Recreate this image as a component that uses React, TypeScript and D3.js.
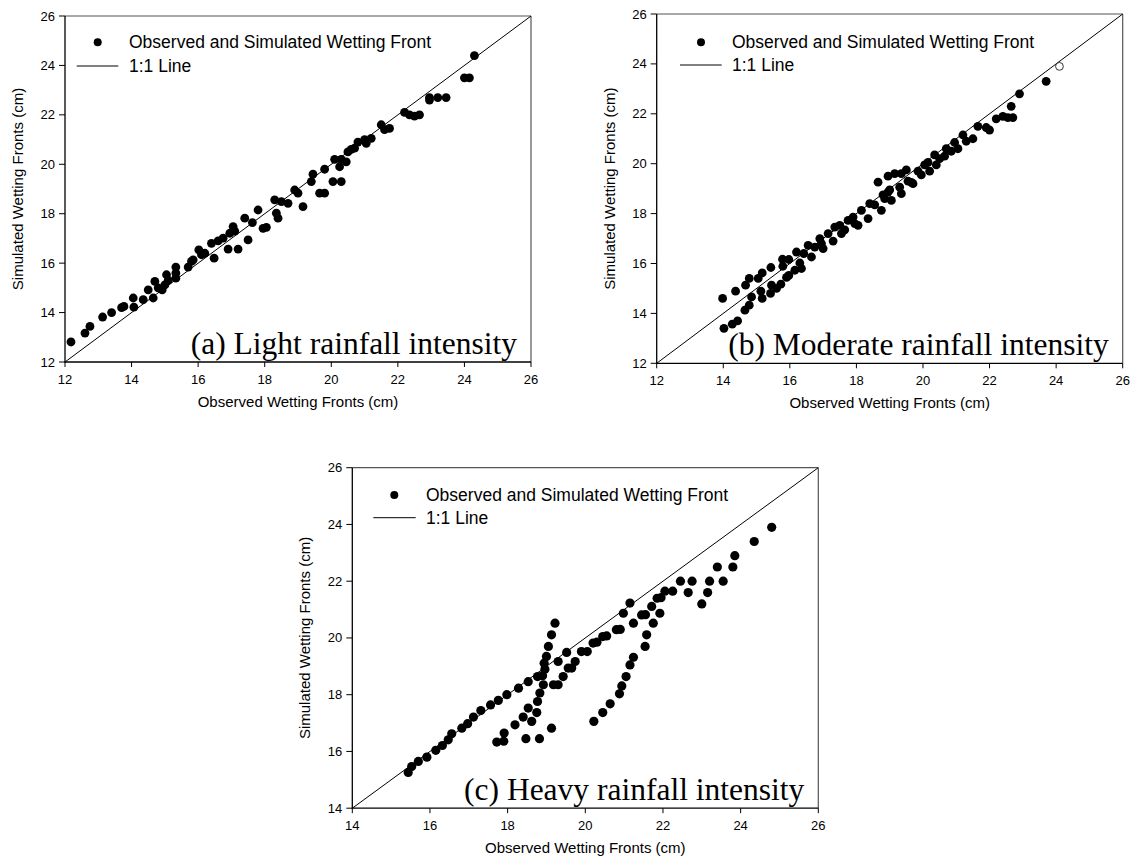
import React from "react";
import * as d3 from "d3";

// ---------- data ----------
const ticksAB = [12, 14, 16, 18, 20, 22, 24, 26];
const ticksC = [14, 16, 18, 20, 22, 24, 26];

const obsA = [12.18, 12.6, 12.75, 13.13, 13.4, 13.7, 13.77, 14.05, 14.07, 14.35, 14.5, 14.65, 14.7, 14.92, 15.0, 15.05, 15.1, 14.8, 15.33, 15.33, 15.33, 15.7, 15.8, 15.85, 16.02, 16.1, 16.2, 16.4, 16.48, 16.6, 16.75, 16.95, 17.05, 17.1, 16.9, 17.2, 17.5, 17.4, 17.63, 17.8, 17.95, 18.05, 18.3, 18.35, 18.4, 18.5, 18.7, 19.15, 18.9, 19.0, 19.4, 19.65, 19.8, 20.05, 20.3, 19.45, 19.8, 20.1, 20.25, 20.3, 20.45, 20.5, 20.6, 20.7, 20.8, 21.0, 21.05, 21.2, 21.5, 21.6, 21.75, 22.2, 22.35, 22.5, 22.65, 22.95, 22.95, 23.2, 23.45, 24.0, 24.15, 24.3];
const simA = [12.81, 13.17, 13.44, 13.82, 14.0, 14.2, 14.25, 14.59, 14.22, 14.52, 14.92, 14.59, 15.26, 14.92, 15.12, 15.53, 15.3, 15.0, 15.84, 15.6, 15.39, 15.84, 16.07, 16.13, 16.54, 16.34, 16.4, 16.8, 16.2, 16.9, 17.01, 17.21, 17.48, 17.3, 16.57, 16.57, 16.94, 17.82, 17.64, 18.15, 17.41, 17.45, 18.56, 18.02, 17.82, 18.49, 18.42, 18.29, 18.96, 18.83, 19.3, 18.83, 18.83, 19.3, 19.3, 19.6, 19.8, 20.2, 19.9, 20.2, 20.1, 20.5, 20.6, 20.65, 20.9, 21.0, 20.85, 21.05, 21.6, 21.4, 21.45, 22.1, 22.0, 21.95, 22.0, 22.7, 22.6, 22.7, 22.7, 23.5, 23.5, 24.4];

const obsB = [13.98, 14.02, 14.27, 14.43, 14.37, 14.65, 14.78, 14.85, 14.67, 14.78, 15.05, 15.17, 15.13, 15.17, 15.43, 15.45, 15.42, 15.6, 15.73, 15.78, 15.79, 15.97, 15.9, 15.97, 16.15, 16.2, 16.3, 16.42, 16.35, 16.55, 16.65, 16.75, 16.9, 16.95, 17.0, 17.15, 17.3, 17.35, 17.5, 17.55, 17.65, 17.75, 17.9, 17.95, 18.05, 18.15, 18.35, 18.4, 18.55, 18.65, 18.75, 18.8, 18.85, 18.95, 19.0, 19.05, 19.3, 19.35, 19.7, 18.95, 19.15, 19.35, 19.5, 19.55, 19.65, 19.85, 19.95, 20.05, 20.15, 20.2, 20.35, 20.4, 20.5, 20.65, 20.7, 20.85, 20.95, 21.05, 21.2, 21.3, 21.5, 21.65, 21.9, 22.0, 22.2, 22.4, 22.55, 22.65, 22.7, 22.9, 23.7];
const simB = [14.6, 13.4, 13.57, 13.7, 14.89, 14.13, 14.33, 14.66, 15.13, 15.4, 15.4, 15.62, 14.89, 14.6, 15.84, 15.13, 14.8, 15.0, 15.17, 16.17, 15.89, 16.16, 15.44, 15.52, 15.73, 16.46, 16.02, 16.4, 15.8, 16.73, 16.26, 16.66, 17.0, 16.8, 16.6, 17.2, 16.9, 17.46, 17.53, 17.2, 17.35, 17.73, 17.86, 17.6, 17.53, 18.13, 17.8, 18.4, 18.35, 19.26, 18.13, 18.75, 18.6, 18.86, 18.95, 18.53, 19.06, 18.8, 19.2, 19.5, 19.6, 19.6, 19.75, 19.3, 19.25, 19.7, 19.55, 19.95, 20.05, 19.7, 20.35, 19.95, 20.2, 20.3, 20.6, 20.5, 20.85, 20.6, 21.15, 20.9, 21.0, 21.5, 21.45, 21.35, 21.8, 21.9, 21.85, 22.3, 21.85, 22.8, 23.3];
const openObsB = [24.1];
const openSimB = [23.9];

const obsC = [15.44, 15.53, 15.7, 15.92, 16.15, 16.32, 16.47, 16.56, 16.82, 16.97, 17.12, 17.31, 17.56, 17.76, 17.98, 17.72, 17.9, 17.91, 18.28, 18.53, 18.77, 18.19, 18.4, 18.53, 18.47, 18.82, 18.62, 18.75, 18.77, 18.83, 18.92, 18.9, 18.96, 18.94, 19.0, 19.05, 19.13, 19.22, 19.13, 19.18, 19.3, 19.3, 19.43, 19.56, 19.52, 19.65, 19.74, 19.9, 20.05, 20.2, 20.3, 20.45, 20.55, 20.8, 20.9, 20.98, 21.15, 21.24, 21.45, 21.55, 21.58, 21.71, 21.75, 21.85, 21.95, 21.92, 21.54, 21.24, 21.15, 21.05, 20.94, 20.88, 20.64, 20.45, 20.22, 22.05, 22.25, 22.45, 22.65, 22.75, 23.0, 23.15, 23.2, 23.4, 23.55, 23.8, 23.85, 24.35, 24.8];
const simC = [15.26, 15.47, 15.65, 15.8, 16.04, 16.21, 16.41, 16.62, 16.82, 16.98, 17.21, 17.44, 17.64, 17.8, 18.0, 16.33, 16.36, 16.65, 18.23, 18.46, 18.64, 16.94, 17.21, 17.53, 16.45, 16.45, 17.06, 17.37, 17.76, 18.06, 18.35, 18.67, 18.9, 19.11, 19.35, 19.7, 20.11, 20.52, 16.82, 18.35, 18.35, 19.17, 18.64, 18.94, 19.49, 18.94, 19.17, 19.52, 19.52, 19.82, 19.85, 20.05, 20.07, 20.29, 20.3, 20.87, 21.23, 20.52, 20.81, 20.82, 20.11, 21.11, 20.52, 21.4, 21.42, 20.87, 19.7, 19.32, 19.05, 18.64, 18.31, 18.03, 17.68, 17.37, 17.06, 21.65, 21.65, 22.0, 21.6, 22.0, 21.2, 21.6, 22.0, 22.5, 22.0, 22.5, 22.9, 23.4, 23.9];

const legendPoints = "Observed and Simulated Wetting Front";
const legendLine = "1:1 Line";
const xTitle = "Observed Wetting Fronts (cm)";
const yTitle = "Simulated Wetting Fronts (cm)";

const SANS = "'Liberation Sans', Arial, sans-serif";
const SERIF = "'Liberation Serif', 'Times New Roman', serif";

type PanelProps = {
  left: number; top: number; width: number; height: number;
  domain: [number, number]; ticks: number[];
  obs: number[]; sim: number[];
  openObs?: number[]; openSim?: number[];
  label: string;
  leg: { dx: number; dy: number; lx1: number; lx2: number; ly: number; tx: number };
  r: number;
};

function Panel(p: PanelProps) {
  const x = d3.scaleLinear().domain(p.domain).range([p.left, p.left + p.width]);
  const y = d3.scaleLinear().domain(p.domain).range([p.top + p.height, p.top]);
  const bottom = p.top + p.height;
  const right = p.left + p.width;
  return (
    <g>
      {/* frame */}
      <line x1={p.left} x2={right} y1={p.top} y2={p.top} stroke="#555" strokeWidth={1.2} />
      <line x1={right} x2={right} y1={p.top} y2={bottom} stroke="#555" strokeWidth={1.2} />
      <line x1={p.left} x2={p.left} y1={p.top} y2={bottom + 0.5} stroke="#000" strokeWidth={1.3} />
      <line x1={p.left - 0.5} x2={right} y1={bottom} y2={bottom} stroke="#000" strokeWidth={1.3} />
      {/* ticks */}
      {p.ticks.map((t) => (
        <g key={"x" + t}>
          <line x1={x(t)} x2={x(t)} y1={bottom} y2={bottom + 5} stroke="#000" strokeWidth={1} />
          <text x={x(t)} y={bottom + 22} textAnchor="middle" fontFamily={SANS} fontSize={13}>{t}</text>
        </g>
      ))}
      {p.ticks.map((t) => (
        <g key={"y" + t}>
          <line x1={p.left - 6} x2={p.left} y1={y(t)} y2={y(t)} stroke="#000" strokeWidth={1} />
          <text x={p.left - 10} y={y(t) + 4.5} textAnchor="end" fontFamily={SANS} fontSize={13}>{t}</text>
        </g>
      ))}
      {/* 1:1 line */}
      <line x1={x(p.domain[0])} y1={y(p.domain[0])} x2={x(p.domain[1])} y2={y(p.domain[1])} stroke="#000" strokeWidth={1} />
      {/* points */}
      {p.obs.map((o, i) => (
        <circle key={i} cx={x(o)} cy={y(p.sim[i])} r={p.r} fill="#000" />
      ))}
      {(p.openObs || []).map((o, i) => (
        <circle key={"o" + i} cx={x(o)} cy={y((p.openSim || [])[i])} r={p.r - 0.5} fill="#fff" stroke="#000" strokeWidth={0.8} />
      ))}
      {/* legend */}
      <circle cx={p.left + p.leg.dx} cy={p.top + p.leg.dy} r={4} fill="#000" />
      <text x={p.left + p.leg.tx} y={p.top + p.leg.dy + 6} fontFamily={SANS} fontSize={17.5}>{legendPoints}</text>
      <line x1={p.left + p.leg.lx1} x2={p.left + p.leg.lx2} y1={p.top + p.leg.ly} y2={p.top + p.leg.ly} stroke="#000" strokeWidth={1} />
      <text x={p.left + p.leg.tx} y={p.top + p.leg.ly + 6} fontFamily={SANS} fontSize={17.5}>{legendLine}</text>
      {/* panel label */}
      <text x={right - 14} y={bottom - 8} textAnchor="end" fontFamily={SERIF} fontSize={31.5}>{p.label}</text>
      {/* axis titles */}
      <text x={(p.left + right) / 2} y={bottom + 45} textAnchor="middle" fontFamily={SANS} fontSize={15}>{xTitle}</text>
      <text transform={`translate(${p.left - 42},${(p.top + bottom) / 2}) rotate(-90)`} textAnchor="middle" fontFamily={SANS} fontSize={15}>{yTitle}</text>
    </g>
  );
}

export default function App() {
  return (
    <svg width={1133} height={861} style={{ position: "absolute", left: 0, top: 0, background: "#fff" }}>
      <rect width={1133} height={861} fill="#fff" />
      <Panel left={65} top={16} width={466} height={346} domain={[12, 26]} ticks={ticksAB}
        obs={obsA} sim={simA} label="(a) Light rainfall intensity" r={4.4}
        leg={{ dx: 32.7, dy: 26.3, lx1: 11.7, lx2: 53.3, ly: 50, tx: 64 }} />
      <Panel left={656.7} top={14} width={466} height={349.3} domain={[12, 26]} ticks={ticksAB}
        obs={obsB} sim={simB} openObs={openObsB} openSim={openSimB} label="(b) Moderate rainfall intensity" r={4.4}
        leg={{ dx: 44.3, dy: 28.3, lx1: 23.3, lx2: 65, ly: 51, tx: 75.3 }} />
      <Panel left={352.3} top={467.7} width={466} height={340.5} domain={[14, 26]} ticks={ticksC}
        obs={obsC} sim={simC} label="(c) Heavy rainfall intensity" r={4.6}
        leg={{ dx: 42, dy: 27.3, lx1: 21, lx2: 63.4, ly: 50, tx: 73.7 }} />
    </svg>
  );
}
